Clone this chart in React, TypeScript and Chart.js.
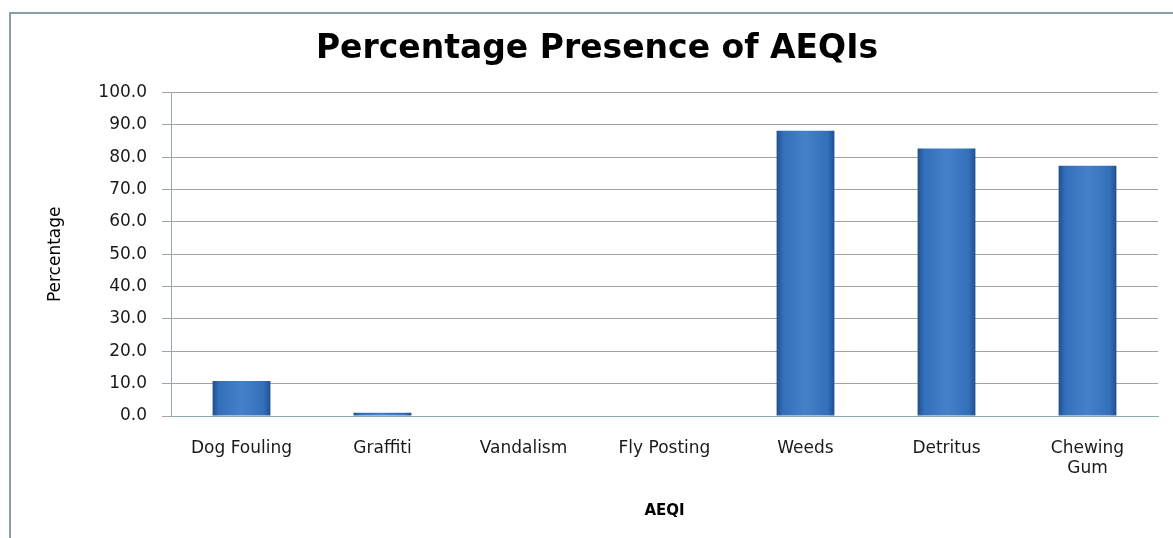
import React, { useEffect, useRef } from "react";
import { Chart, registerables } from "chart.js";

Chart.register(...registerables);

const categories: (string | string[])[] = [
  "Dog Fouling",
  "Graffiti",
  "Vandalism",
  "Fly Posting",
  "Weeds",
  "Detritus",
  ["Chewing", "Gum"],
];
const presence: number[] = [10.8, 1.0, 0, 0, 88.2, 82.7, 77.4];
const yTicks: number[] = [0, 10, 20, 30, 40, 50, 60, 70, 80, 90, 100];

const W = 1173;
const H = 538;
const FONT = "'DejaVu Sans', sans-serif";

const framePlugin = {
  id: "frame",
  beforeDraw(chart: any) {
    const ctx = chart.ctx;
    ctx.save();
    ctx.fillStyle = "#ffffff";
    ctx.fillRect(0, 0, chart.width, chart.height);
    ctx.strokeStyle = "#8c9ca3";
    ctx.lineWidth = 2;
    ctx.beginPath();
    ctx.moveTo(10, chart.height);
    ctx.lineTo(10, 13);
    ctx.lineTo(chart.width, 13);
    ctx.stroke();
    ctx.restore();
  },
};

export default function App() {
  const ref = useRef<HTMLCanvasElement | null>(null);
  useEffect(() => {
    if (!ref.current) return;
    const chart = new Chart(ref.current, {
      type: "bar",
      data: {
        labels: categories,
        datasets: [
          {
            data: presence,
            backgroundColor: (c: any) => {
              const ch = c.chart;
              const xs = ch.scales && ch.scales.x;
              if (!xs || !ch.chartArea || c.dataIndex === undefined) return "#3a72bd";
              const cx = xs.getPixelForValue(c.dataIndex);
              const half = 29;
              const g = ch.ctx.createLinearGradient(cx - half, 0, cx + half, 0);
              g.addColorStop(0, "#1f4f8f");
              g.addColorStop(0.12, "#3470ba");
              g.addColorStop(0.5, "#4580c8");
              g.addColorStop(0.88, "#3470ba");
              g.addColorStop(1, "#1f4f8f");
              return g;
            },
            borderWidth: 0,
            barPercentage: 0.41,
            categoryPercentage: 1,
          },
        ],
      },
      options: {
        animation: false,
        responsive: false,
        layout: { padding: { left: 36, right: 15, top: 0, bottom: 0 } },
        plugins: {
          legend: { display: false },
          tooltip: { enabled: false },
          title: {
            display: true,
            text: "Percentage Presence of AEQIs",
            color: "#000000",
            font: { family: FONT, size: 33, weight: "bold" },
            padding: { top: 30, bottom: 23 },
          },
        },
        scales: {
          x: {
            grid: { display: false },
            border: { display: true, color: "#8fa9b6", width: 1 },
            ticks: {
              color: "#1a1a1a",
              font: { family: FONT, size: 17 },
              padding: 14,
              maxRotation: 0,
              autoSkip: false,
            },
            title: {
              display: true,
              text: "AEQI",
              color: "#000000",
              font: { family: FONT, size: 15, weight: "bold" },
              padding: { top: 4, bottom: 18 },
            },
            afterFit: (s: any) => {
              s.height = 122;
            },
          },
          y: {
            min: 0,
            max: 100,
            afterBuildTicks: (s: any) => {
              s.ticks = yTicks.map((v) => ({ value: v }));
            },
            grid: {
              color: "#a8a0a2",
              lineWidth: 1,
              tickLength: 9,
              drawTicks: true,
            },
            border: { display: true, color: "#8fa9b6", width: 1 },
            ticks: {
              color: "#1a1a1a",
              font: { family: FONT, size: 17 },
              padding: 15,
              callback: (v: any) => Number(v).toFixed(1),
            },
            title: {
              display: true,
              text: "Percentage",
              color: "#000000",
              font: { family: FONT, size: 17 },
              padding: { top: 9, bottom: 0 },
            },
            afterFit: (s: any) => {
              s.width = 135;
            },
          },
        },
      },
      plugins: [framePlugin],
    } as any);
    return () => chart.destroy();
  }, []);
  return (
    <div style={{ position: "absolute", left: 0, top: 0, width: W, height: H }}>
      <canvas ref={ref} width={W} height={H} style={{ display: "block" }} />
    </div>
  );
}
